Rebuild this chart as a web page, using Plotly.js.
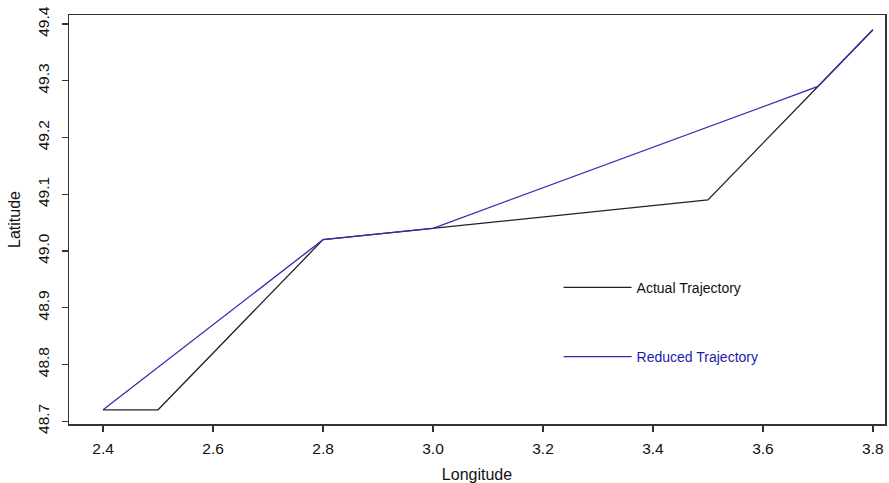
<!DOCTYPE html>
<html>
<head>
<meta charset="utf-8">
<script src="https://cdn.plot.ly/plotly-3.0.1.min.js"></script>
<style>html,body{margin:0;padding:0;background:#fff;}#chart{width:889px;height:483px;}</style>
</head>
<body>
<div id="chart"></div>
<script>
// Data
const actualLon = [2.4, 2.5, 2.8, 3.0, 3.5, 3.7, 3.8];
const actualLat = [48.72, 48.72, 49.02, 49.04, 49.09, 49.29, 49.39];
const reducedLon = [2.4, 2.8, 3.0, 3.7, 3.8];
const reducedLat = [48.72, 49.02, 49.04, 49.29, 49.39];
const seriesNames = ["Actual Trajectory", "Reduced Trajectory"];
const xTicks = [2.4, 2.6, 2.8, 3.0, 3.2, 3.4, 3.6, 3.8];
const yTicks = [48.7, 48.8, 48.9, 49.0, 49.1, 49.2, 49.3, 49.4];

const font = "Liberation Sans, Arial, sans-serif";

const traces = [
  {x: actualLon, y: actualLat, mode: "lines", type: "scatter",
   name: "<span style='color:#111'>" + seriesNames[0] + "</span>",
   line: {color: "#222", width: 1.3}, legendgroup: "a"},
  {x: reducedLon, y: reducedLat, mode: "lines", type: "scatter",
   name: "<span style='color:#1c1caa'>" + seriesNames[1] + "</span>",
   line: {color: "#2e2eb4", width: 1.3}, legendgroup: "b"}
];

const layout = {
  width: 889, height: 483,
  margin: {l: 69, r: 4, t: 15, b: 59},
  paper_bgcolor: "#fff", plot_bgcolor: "#fff",
  font: {family: font, size: 15, color: "#111"},
  showlegend: true,
  legend: {x: 0.6, y: 0.372, xanchor: "left", yanchor: "top",
           bgcolor: "rgba(0,0,0,0)", borderwidth: 0,
           font: {family: font, size: 14},
           tracegroupgap: 48, traceorder: "grouped", itemwidth: 68},
  xaxis: {
    range: [2.338, 3.822], tickvals: xTicks, ticktext: xTicks.map(v => v.toFixed(1)),
    showgrid: false, zeroline: false, showline: true, mirror: true,
    linecolor: "#333", linewidth: 1.5, ticks: "outside", ticklen: 6, tickwidth: 1.2, tickcolor: "#333",
    tickfont: {size: 15.5}, ticklabelstandoff: 4,
    title: {text: "Longitude", font: {size: 16}, standoff: 12}
  },
  yaxis: {
    range: [48.695, 49.416], tickvals: yTicks, ticktext: yTicks.map(v => v.toFixed(1)),
    showgrid: false, zeroline: false, showline: true, mirror: true,
    linecolor: "#333", linewidth: 1.5, ticks: "outside", ticklen: 6, tickwidth: 1.2, tickcolor: "#333",
    tickangle: -90, tickfont: {size: 15.5}, ticklabelstandoff: 6,
    title: {text: "Latitude", font: {size: 16}, standoff: 10}
  }
};

Plotly.newPlot("chart", traces, layout, {displayModeBar: false, staticPlot: true});
</script>
</body>
</html>
